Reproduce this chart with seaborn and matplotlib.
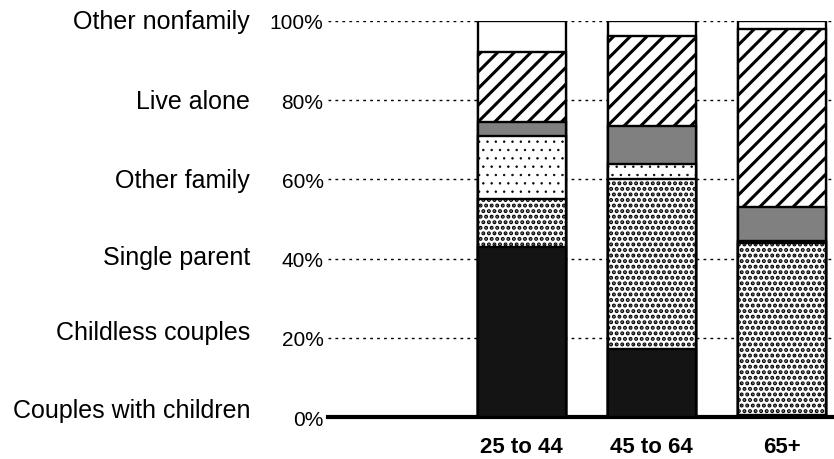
import numpy as np
import pandas as pd
import matplotlib
matplotlib.use("Agg")
import matplotlib.pyplot as plt
import seaborn as sns

sns.set_style("white")
plt.rcParams["font.family"] = ["Liberation Sans", "DejaVu Sans"]
plt.rcParams["text.color"] = "black"
plt.rcParams["xtick.color"] = "black"
plt.rcParams["ytick.color"] = "black"

# age groups on the x axis
ages = ["25 to 44", "45 to 64", "65+"]

# household types, bottom of the stack first (percent of households)
households = ["Couples with children", "Childless couples", "Single parent",
              "Other family", "Live alone", "Other nonfamily"]
couples_children = [43.0, 17.2, 0.5]
childless = [12.0, 42.9, 43.5]
single_parent = [16.0, 3.8, 0.5]
other_family = [3.4, 9.5, 8.5]
live_alone = [17.8, 22.7, 45.0]
other_nonfamily = [7.8, 3.9, 2.0]

shares = [couples_children, childless, single_parent,
          other_family, live_alone, other_nonfamily]

# fill style for each household type
styles = {
    "Couples with children": dict(color="#141414", hatch=None, hlw=1.0),
    "Childless couples": dict(color="white", hatch="...", hlw=2.0),
    "Single parent": dict(color="white", hatch="..", hlw=0.5),
    "Other family": dict(color="#808080", hatch=None, hlw=1.0),
    "Live alone": dict(color="white", hatch="//", hlw=2.2),
    "Other nonfamily": dict(color="white", hatch=None, hlw=1.0),
}

df = pd.DataFrame(np.array(shares).T, columns=households)
cum = df.cumsum(axis=1)
cum["age"] = ages

fig = plt.figure(figsize=(8.34, 4.6), dpi=100)
ax = fig.add_axes([0.393, 0.0913, 0.607, 0.8609])

# cumulative bars drawn from the top down so each one covers the previous
for name in reversed(households):
    st = styles[name]
    n_before = len(ax.patches)
    sns.barplot(data=cum, x="age", y=name, order=ages, color=st["color"],
                hatch=st["hatch"], edgecolor="black", linewidth=1.7,
                width=0.677, saturation=1, ax=ax, zorder=3)
    for p in ax.patches[n_before:]:
        try:
            p.set_hatch_linewidth(st["hlw"])
        except AttributeError:
            pass

ax.set_xlim(-1.49, 2.4)
ax.set_ylim(0, 100)
ax.set_yticks([0, 20, 40, 60, 80, 100])
ax.set_yticklabels(["0%", "20%", "40%", "60%", "80%", "100%"], fontsize=15)
ax.yaxis.grid(True, color="black", linestyle=(0, (2, 3)), linewidth=1)
ax.set_axisbelow(True)
ax.tick_params(axis="y", length=0, pad=3)
ax.tick_params(axis="x", length=0, pad=14)
for lab in ax.get_xticklabels():
    lab.set_fontsize(16)
    lab.set_fontweight("bold")
ax.set_xlabel("")
ax.set_ylabel("")
for s in ["left", "right", "top"]:
    ax.spines[s].set_visible(False)
ax.spines["bottom"].set_linewidth(3)
ax.spines["bottom"].set_color("black")

# household type labels down the left side
label_y = [411, 333, 258, 181, 102, 22]
for name, ypx in zip(households, label_y):
    fig.text(250 / 834, 1 - ypx / 460, name, ha="right", va="center",
             fontsize=18)

fig.savefig("out.png", dpi=100, facecolor="white")
